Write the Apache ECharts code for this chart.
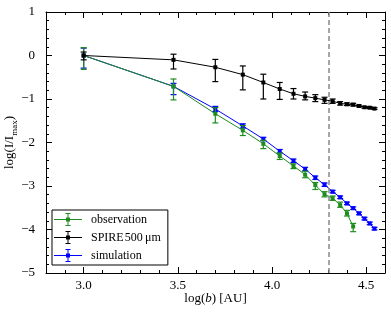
<!DOCTYPE html>
<html>
<head>
<meta charset="utf-8">
<script src="https://cdn.jsdelivr.net/npm/echarts@6/dist/echarts.min.js"></script>
<style>html,body{margin:0;padding:0;background:#fff}#c{width:391px;height:316px}</style>
</head>
<body>
<div id="c"></div>
<script>
// log(b) positions [AU]
var logB = [3.0, 3.477, 3.699, 3.845, 3.954, 4.041, 4.114, 4.176, 4.230, 4.279, 4.322, 4.362, 4.398, 4.431, 4.462, 4.491, 4.519, 4.544];

// SPIRE 500 um
var spireVal  = [0, -0.10, -0.27, -0.44, -0.62, -0.77, -0.88, -0.94, -0.98, -1.02, -1.05, -1.10, -1.12, -1.13, -1.16, -1.19, -1.20, -1.22];
var spireLow  = [-0.10, -0.31, -0.60, -0.79, -1.00, -1.01, -1.00, -1.02, -1.06, -1.10, -1.10, -1.14, -1.15, -1.16, -1.18, -1.21, -1.22, -1.24];
var spireHigh = [0.08, 0.03, -0.09, -0.24, -0.43, -0.62, -0.76, -0.84, -0.90, -0.96, -1.00, -1.06, -1.09, -1.10, -1.14, -1.17, -1.18, -1.20];

// simulation
var simVal  = [0, -0.71, -1.23, -1.62, -1.92, -2.20, -2.42, -2.61, -2.81, -2.97, -3.13, -3.26, -3.40, -3.51, -3.63, -3.75, -3.86, -3.98];
var simLow  = [-0.29, -0.90, -1.29, -1.67, -1.96, -2.24, -2.46, -2.65, -2.85, -3.01, -3.16, -3.29, -3.43, -3.54, -3.66, -3.78, -3.89, -4.01];
var simHigh = [0.17, -0.64, -1.17, -1.57, -1.88, -2.16, -2.38, -2.57, -2.77, -2.93, -3.10, -3.23, -3.37, -3.48, -3.60, -3.72, -3.83, -3.95];

// observation (14 points)
var obsVal  = [0, -0.71, -1.34, -1.72, -2.03, -2.31, -2.54, -2.74, -2.98, -3.19, -3.28, -3.44, -3.63, -3.93];
var obsLow  = [-0.32, -1.02, -1.55, -1.84, -2.14, -2.39, -2.60, -2.81, -3.08, -3.25, -3.33, -3.49, -3.69, -4.05];
var obsHigh = [0.18, -0.54, -1.20, -1.61, -1.95, -2.24, -2.49, -2.66, -2.92, -3.13, -3.23, -3.37, -3.56, -3.86];

var dashX = 4.30;

// ticks
var xMajor = [3.0, 3.5, 4.0, 4.5];
var xMinor = [2.8, 2.9, 3.0, 3.1, 3.2, 3.3, 3.4, 3.5, 3.6, 3.7, 3.8, 3.9, 4.0, 4.1, 4.2, 4.3, 4.4, 4.5, 4.6];
var yMajor = [-5, -4, -3, -2, -1, 0, 1];
var yMinor = [-5, -4.8, -4.6, -4.4, -4.2, -4, -3.8, -3.6, -3.4, -3.2, -3, -2.8, -2.6, -2.4, -2.2, -2, -1.8, -1.6, -1.4, -1.2, -1, -0.8, -0.6, -0.4, -0.2, 0, 0.2, 0.4, 0.6, 0.8, 1];

var serif = '"Liberation Serif", "DejaVu Serif", serif';
var cGreen = '#1e8c1e', cBlue = '#0000ff', cBlack = '#000000';

function pts(vals) { return vals.map(function (v, i) { return [logB[i], v]; }); }
function errs(lo, hi) { return lo.map(function (v, i) { return [logB[i], v, hi[i]]; }); }

function errRender(color) {
  return function (params, api) {
    var x = api.value(0);
    var a = api.coord([x, api.value(1)]);
    var b = api.coord([x, api.value(2)]);
    var w = 3;
    var st = { stroke: color, lineWidth: 1.2 };
    return { type: 'group', children: [
      { type: 'line', shape: { x1: a[0], y1: a[1], x2: b[0], y2: b[1] }, style: st },
      { type: 'line', shape: { x1: a[0] - w, y1: a[1], x2: a[0] + w, y2: a[1] }, style: st },
      { type: 'line', shape: { x1: b[0] - w, y1: b[1], x2: b[0] + w, y2: b[1] }, style: st }
    ]};
  };
}

var icon = 'path://M0,6.5 H28 V7.5 H0 Z M13.5,1 H14.5 V13 H13.5 Z M11.5,0.5 H16.5 V1.5 H11.5 Z M11.5,12.5 H16.5 V13.5 H11.5 Z M12,5 H16 V9 H12 Z';

function xAx(pos, vals, len, showLine, showLabel) {
  return {
    type: 'value', position: pos, min: 2.8, max: 4.6, interval: 0.1, gridIndex: 0,
    axisLine: { show: showLine, onZero: false, lineStyle: { color: '#000', width: 1 } },
    axisTick: { show: true, inside: true, length: len, customValues: vals, lineStyle: { color: '#000', width: 1 } },
    axisLabel: { show: showLabel, customValues: xMajor, margin: 6, fontFamily: serif, fontSize: 13, color: '#000',
      formatter: function (v) { return v.toFixed(1); } },
    splitLine: { show: false }
  };
}
function yAx(pos, vals, len, showLine, showLabel) {
  return {
    type: 'value', position: pos, min: -5, max: 1, interval: 0.2, gridIndex: 0,
    axisLine: { show: showLine, onZero: false, lineStyle: { color: '#000', width: 1 } },
    axisTick: { show: true, inside: true, length: len, customValues: vals, lineStyle: { color: '#000', width: 1 } },
    axisLabel: { show: showLabel, customValues: yMajor, margin: 11, fontFamily: serif, fontSize: 13, color: '#000',
      formatter: function (v) { return v < 0 ? '\u2212' + Math.abs(v) : String(v); } },
    splitLine: { show: false }
  };
}

var xs = [xAx('bottom', xMajor, 6, true, true), xAx('bottom', xMinor, 3, false, false),
          xAx('top', xMajor, 6, true, false), xAx('top', xMinor, 3, false, false)];
xs[0].name = '{n|log(}{i|b}{n|) [AU]}';
xs[0].nameLocation = 'middle';
xs[0].nameGap = 19;
xs[0].nameMoveOverlap = false;
xs[0].nameTextStyle = { rich: {
  n: { fontFamily: serif, fontSize: 13, color: '#000' },
  i: { fontFamily: serif, fontSize: 13, fontStyle: 'italic', color: '#000' } } };

var ys = [yAx('left', yMajor, 6, true, true), yAx('left', yMinor, 3, false, false),
          yAx('right', yMajor, 6, true, false), yAx('right', yMinor, 3, false, false)];
ys[0].name = '{n|log(I/I}{s|max}{n|)}';
ys[0].nameLocation = 'middle';
ys[0].nameGap = 27;
ys[0].nameRotate = 90;
ys[0].nameMoveOverlap = false;
ys[0].nameTextStyle = { rich: {
  n: { fontFamily: serif, fontSize: 13, color: '#000', lineHeight: 16, verticalAlign: 'top' },
  s: { fontFamily: serif, fontSize: 9, color: '#000', lineHeight: 16, verticalAlign: 'bottom' } } };

var option = {
  animation: false,
  backgroundColor: '#fff',
  grid: { left: 46, right: 6, top: 12, bottom: 43, containLabel: false, outerBoundsMode: 'none' },
  xAxis: xs,
  yAxis: ys,
  legend: {
    orient: 'vertical', left: 52, top: 210,
    padding: [3, 7, 3, 2], itemGap: 5, itemWidth: 28, itemHeight: 13,
    borderColor: '#000', borderWidth: 1, borderRadius: 0, backgroundColor: '#fff',
    textStyle: { fontFamily: serif, fontSize: 12, color: '#000', padding: [0, 0, 0, 4] },
    data: [
      { name: 'observation', icon: icon },
      { name: 'SPIRE\u200a500\u2009\u03bcm', icon: icon },
      { name: 'simulation', icon: icon }
    ]
  },
  series: [
    { type: 'custom', name: 'simErr', renderItem: errRender(cBlue), data: errs(simLow, simHigh), z: 3 },
    { type: 'line', name: 'simulation', data: pts(simVal), color: cBlue, symbol: 'rect', symbolSize: 4,
      lineStyle: { width: 1, color: cBlue }, itemStyle: { color: cBlue }, z: 3,
      markLine: { silent: true, symbol: ['none', 'none'], label: { show: false },
        lineStyle: { color: '#888', type: [5, 3], width: 1.5 }, data: [{ xAxis: dashX }] } },
    { type: 'custom', name: 'obsErr', renderItem: errRender(cGreen), data: errs(obsLow, obsHigh), z: 4 },
    { type: 'line', name: 'observation', data: pts(obsVal), color: cGreen, symbol: 'rect', symbolSize: 4,
      lineStyle: { width: 1, color: cGreen }, itemStyle: { color: cGreen }, z: 4 },
    { type: 'custom', name: 'spireErr', renderItem: errRender(cBlack), data: errs(spireLow, spireHigh), z: 5 },
    { type: 'line', name: 'SPIRE\u200a500\u2009\u03bcm', data: pts(spireVal), color: cBlack, symbol: 'rect', symbolSize: 4,
      lineStyle: { width: 1, color: cBlack }, itemStyle: { color: cBlack }, z: 5 }
  ]
};
var chart = echarts.init(document.getElementById('c'), null, { renderer: 'canvas' });
chart.setOption(option);
</script>
</body>
</html>
